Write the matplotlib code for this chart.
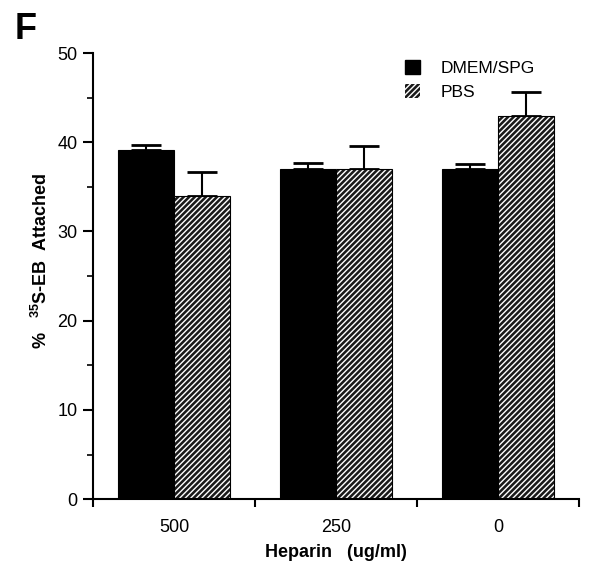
import numpy as np
import matplotlib.pyplot as plt
from matplotlib.ticker import MultipleLocator
from matplotlib.patches import Patch

plt.rcParams["font.family"] = ["Liberation Sans", "DejaVu Sans"]
plt.rcParams["hatch.linewidth"] = 1.0

heparin = ["500", "250", "0"]
dmem = [39.1, 37.0, 37.0]
dmem_err = [0.6, 0.7, 0.6]
pbs = [34.0, 37.0, 42.9]
pbs_err = [2.7, 2.6, 2.7]

fig = plt.figure(figsize=(6, 5.64), dpi=100)
ax = fig.add_axes([0.155, 0.115, 0.81, 0.791])

x = np.arange(len(heparin))
w = 0.345

ax.bar(x - w / 2, dmem, w, color="black", edgecolor="black", linewidth=0.8, zorder=2)
ax.errorbar(x - w / 2, dmem, yerr=[np.zeros(3), dmem_err], fmt="none",
            ecolor="black", elinewidth=1.5, capsize=11, capthick=2, zorder=1)

# hatched bars: black fill with white diagonal lines
ax.bar(x + w / 2, pbs, w, color="#1a1a1a", edgecolor="white", hatch="//////",
       linewidth=0, zorder=2)
ax.bar(x + w / 2, pbs, w, fill=False, edgecolor="black", linewidth=0.8, zorder=3)
ax.errorbar(x + w / 2, pbs, yerr=[np.zeros(3), pbs_err], fmt="none",
            ecolor="black", elinewidth=1.5, capsize=11, capthick=2, zorder=1)

ax.set_xlim(-0.5, 2.5)
ax.set_ylim(0, 50)
ax.set_xticks([-0.5, 0.5, 1.5, 2.5])
ax.set_xticklabels([])
ax.set_xticks(x, minor=True)
ax.set_xticklabels(heparin, minor=True, fontsize=13)
ax.tick_params(axis="x", which="minor", length=0, pad=14)
ax.tick_params(axis="x", which="major", length=6, width=1.5)
ax.yaxis.set_major_locator(MultipleLocator(10))
ax.yaxis.set_minor_locator(MultipleLocator(5))
ax.tick_params(axis="y", which="major", length=7, width=1.5, labelsize=13, pad=4)
ax.tick_params(axis="y", which="minor", length=4, width=1.2)

for s in ["top", "right"]:
    ax.spines[s].set_visible(False)
for s in ["left", "bottom"]:
    ax.spines[s].set_linewidth(1.5)

ax.set_xlabel("Heparin   (ug/ml)", fontsize=13, fontweight="bold", labelpad=6)
ax.set_ylabel(r"%   $\mathregular{^{35}}$S-EB  Attached", fontsize=13, fontweight="bold")
ax.yaxis.set_label_coords(-0.087, 0.535)

handles = [Patch(facecolor="black", edgecolor="black"),
           Patch(facecolor="#1a1a1a", edgecolor="white", hatch="//////", linewidth=0)]
ax.legend(handles, ["DMEM/SPG", "PBS"], loc="upper left", bbox_to_anchor=(0.61, 1.02),
          frameon=False, fontsize=12.5, handlelength=0.85, handleheight=0.85,
          handletextpad=1.2, labelspacing=0.5)

fig.text(0.025, 0.93, "F", fontsize=26, fontweight="bold")

fig.savefig("out.png", dpi=100)
